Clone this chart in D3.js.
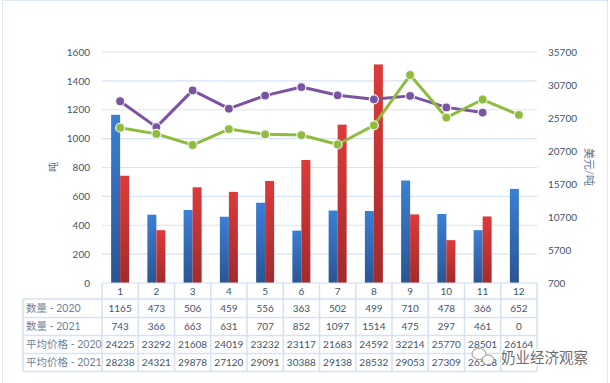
<!DOCTYPE html>
<html>
<head>
<meta charset="utf-8">
<script src="https://cdn.jsdelivr.net/npm/d3@7"></script>
<style>
  body { margin: 0; background: #fff; }
  svg text { font-family: Lato, "Noto Sans CJK SC", sans-serif; }
</style>
</head>
<body>
<div id="chart"></div>
<script>
// data
const months = ["1","2","3","4","5","6","7","8","9","10","11","12"];
const qty2020 = [1165, 473, 506, 459, 556, 363, 502, 499, 710, 478, 366, 652];
const qty2021 = [743, 366, 663, 631, 707, 852, 1097, 1514, 475, 297, 461, 0];
const price2020 = [24225, 23292, 21608, 24019, 23232, 23117, 21683, 24592, 32214, 25770, 28501, 26164];
const price2021 = [28238, 24321, 29878, 27120, 29091, 30388, 29138, 28532, 29053, 27309, 26518, null];
const leftTicks = [0, 200, 400, 600, 800, 1000, 1200, 1400, 1600];
const rightTicks = [700, 5700, 10700, 15700, 20700, 25700, 30700, 35700];
const rowNames = ["数量 - 2020", "数量 - 2021", "平均价格 - 2020", "平均价格 - 2021"];
const rows = [qty2020, qty2021, price2020, price2021];

const W = 610, H = 383;
const pLeft = 102, pRight = 537, pTop = 52, pBottom = 283;
const textColor = "#44546a";
const gridColor = "#d9e4f3";
const numSize = 10;

const svg = d3.select("#chart").append("svg")
  .attr("width", W).attr("height", H);

// chart frame
svg.append("rect")
  .attr("x", 2.5).attr("y", 0.5).attr("width", 605).attr("height", 400)
  .attr("fill", "none").attr("stroke", "#dfe7f2");

// gradients for bars
const defs = svg.append("defs");
function grad(id, c1, c2) {
  const g = defs.append("linearGradient").attr("id", id)
    .attr("x1", 0).attr("y1", 0).attr("x2", 0).attr("y2", 1);
  g.append("stop").attr("offset", "0%").attr("stop-color", c1);
  g.append("stop").attr("offset", "100%").attr("stop-color", c2);
}
grad("gBlue", "#3b7fd6", "#2b5593");
grad("gRed", "#dd3b3a", "#a32a2b");

// scales
const x = d3.scaleBand().domain(months).range([pLeft, pRight]).padding(0);
const yL = d3.scaleLinear().domain([0, 1600]).range([pBottom, pTop]);
const yR = d3.scaleLinear().domain([700, 35700]).range([pBottom, pTop]);
const sub = d3.scaleBand().domain(["2020", "2021"]).range([-9, 9]);

// gridlines
svg.append("g").selectAll("line")
  .data(leftTicks.slice(1)).enter().append("line")
  .attr("x1", pLeft).attr("x2", pRight)
  .attr("y1", d => yL(d)).attr("y2", d => yL(d))
  .attr("stroke", gridColor).attr("stroke-width", 1.2);

// axes
const axL = svg.append("g").attr("transform", `translate(${pLeft},0)`)
  .call(d3.axisLeft(yL).tickValues(leftTicks).tickFormat(d3.format("d")).tickSize(0).tickPadding(12));
const axR = svg.append("g").attr("transform", `translate(${pRight},0)`)
  .call(d3.axisRight(yR).tickValues(rightTicks).tickFormat(d3.format("d")).tickSize(0).tickPadding(11));
[axL, axR].forEach(a => {
  a.select(".domain").remove();
  a.selectAll("text").attr("fill", textColor).attr("font-size", numSize);
});

// axis titles
svg.append("text").attr("transform", "translate(57,167) rotate(-90)")
  .attr("text-anchor", "middle").attr("font-size", 10).attr("fill", "#5b6f98").text("吨");
svg.append("text").attr("transform", "translate(585,167) rotate(90)")
  .attr("text-anchor", "middle").attr("font-size", 11).attr("fill", "#5b6f98").text("美元/吨");

// bars
const cx = m => x(m) + x.bandwidth() / 2;
svg.append("g").selectAll("rect")
  .data(months).enter().append("rect")
  .attr("x", m => cx(m) + sub("2020"))
  .attr("y", (m, i) => yL(qty2020[i]))
  .attr("width", sub.bandwidth())
  .attr("height", (m, i) => pBottom - yL(qty2020[i]))
  .attr("fill", "url(#gBlue)");
svg.append("g").selectAll("rect")
  .data(months).enter().append("rect")
  .attr("x", m => cx(m) + sub("2021"))
  .attr("y", (m, i) => yL(qty2021[i]))
  .attr("width", sub.bandwidth())
  .attr("height", (m, i) => pBottom - yL(qty2021[i]))
  .attr("fill", "url(#gRed)");

// bottom axis line
svg.append("line").attr("x1", pLeft).attr("x2", pRight)
  .attr("y1", pBottom).attr("y2", pBottom)
  .attr("stroke", "#d0dcee").attr("stroke-width", 1.2);

// price lines
function priceLine(vals, color) {
  const pts = months.map((m, i) => ({ m: m, v: vals[i] })).filter(d => d.v != null);
  const line = d3.line().x(d => cx(d.m)).y(d => yR(d.v));
  svg.append("path").datum(pts)
    .attr("d", line).attr("fill", "none")
    .attr("stroke", color).attr("stroke-width", 3).attr("stroke-linejoin", "round");
  svg.append("g").selectAll("circle")
    .data(pts).enter().append("circle")
    .attr("cx", d => cx(d.m)).attr("cy", d => yR(d.v)).attr("r", 4.5)
    .attr("fill", color).attr("stroke", "#f2f2f2").attr("stroke-width", 1.2);
}
priceLine(price2021, "#7a54a3");
priceLine(price2020, "#8fbc3f");

// data table
const rowY = [299, 317.5, 335.5, 353.5, 371.5];
const tableLeft = 23;
const tl = svg.append("g").attr("stroke", "#d6e1f1").attr("stroke-width", 1.5);
rowY.forEach(y => {
  tl.append("line").attr("x1", tableLeft).attr("x2", pRight).attr("y1", y).attr("y2", y);
});
tl.append("line").attr("x1", tableLeft).attr("x2", tableLeft).attr("y1", rowY[0]).attr("y2", rowY[4]);
months.forEach(m => {
  tl.append("line").attr("x1", x(m)).attr("x2", x(m)).attr("y1", pBottom).attr("y2", rowY[4]);
});
tl.append("line").attr("x1", pRight).attr("x2", pRight).attr("y1", pBottom).attr("y2", rowY[4]);

// category labels
svg.append("g").selectAll("text")
  .data(months).enter().append("text")
  .attr("x", m => cx(m)).attr("y", 295)
  .attr("text-anchor", "middle").attr("font-size", numSize).attr("fill", textColor)
  .text(m => m);

// row headers and cells
rows.forEach((vals, r) => {
  const yMid = (rowY[r] + rowY[r + 1]) / 2 + 3.5;
  svg.append("text").attr("x", 26).attr("y", yMid)
    .attr("font-size", 10.5).attr("fill", "#72809a").text(rowNames[r]);
  svg.append("g").selectAll("text")
    .data(months).enter().append("text")
    .attr("x", m => cx(m)).attr("y", yMid)
    .attr("text-anchor", "middle").attr("font-size", numSize).attr("fill", textColor)
    .text((m, i) => vals[i] == null ? "" : vals[i]);
});

// watermark
const wm = svg.append("g").attr("opacity", 0.85);
wm.append("ellipse").attr("cx", 479).attr("cy", 354).attr("rx", 7).attr("ry", 5.5)
  .attr("fill", "#fff").attr("stroke", "#9a9a9a").attr("stroke-width", 1.2);
wm.append("ellipse").attr("cx", 488).attr("cy", 360).attr("rx", 6).attr("ry", 4.8)
  .attr("fill", "#fff").attr("stroke", "#9a9a9a").attr("stroke-width", 1.2);
wm.append("text").attr("x", 501).attr("y", 363)
  .attr("font-size", 14.5).attr("fill", "#555")
  .attr("stroke", "#fff").attr("stroke-width", 3).attr("paint-order", "stroke")
  .style("font-family", "'Noto Sans CJK SC'")
  .text("奶业经济观察");
</script>
</body>
</html>
